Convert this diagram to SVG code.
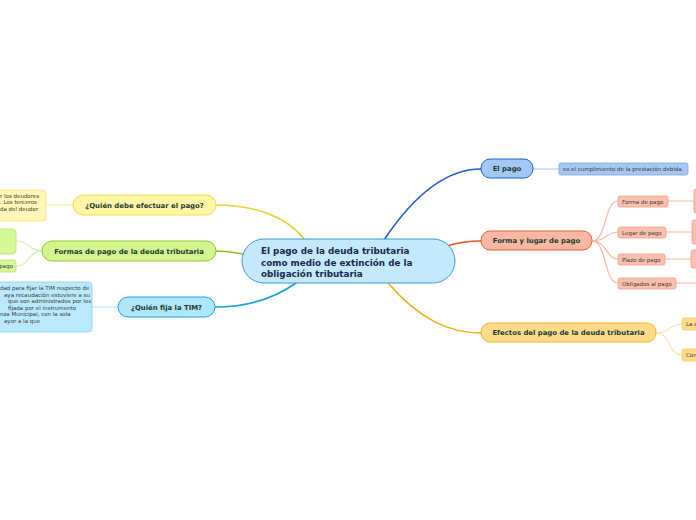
<svg xmlns="http://www.w3.org/2000/svg" width="696" height="520" viewBox="0 0 696 520">
<style>
.c{fill:none;stroke-width:1.6;stroke-linecap:round}
.s{fill:none;stroke-width:1.1}
.m{font-family:"DejaVu Sans",Verdana,sans-serif;font-weight:bold;font-size:6.9px;fill:#1d3b2e}
.t{font-family:"DejaVu Sans",Verdana,sans-serif;font-size:5.5px;fill:#3a3a3a}
.cen{font-family:"DejaVu Sans",Verdana,sans-serif;font-weight:bold;font-size:8.8px;fill:#1a2850}
</style>
<rect width="696" height="520" fill="#ffffff"/>
<g id="connectors">
<path class="c" stroke="#1d5fd0" d="M384,240 C412,198 445,169 481,169"/>
<path class="c" stroke="#ee5025" d="M447,246 C460,242 470,241 481,241"/>
<path class="c" stroke="#f5ae10" d="M388,283 C420,320 450,333 481,333"/>
<path class="c" stroke="#e8d228" d="M305,240 C285,214 250,205 216,205"/>
<path class="c" stroke="#8bbd1e" d="M243,254 C232,252 225,251 216,251"/>
<path class="c" stroke="#18a0e2" d="M296,283 C272,300 245,307 215,307"/>
<path class="s" stroke="#a8c6f2" stroke-width="1.6" d="M533,169 L559,169"/>
<path class="s" stroke="#fbb3a0" d="M592,241 C607,241 604,201 618,201 M592,241 C607,241 606,232 618,232 M592,241 C607,241 606,259 618,259 M592,241 C607,241 604,283 618,283"/>
<path class="s" stroke="#fbb3a0" stroke-width="1.5" d="M668,201 L694,201 M666,232 L692,232 M665,259 L691,259 M676,283 L696,283"/>
<path class="s" stroke="#fde09a" d="M656,333 C671,333 668,324 682,324 M656,333 C671,333 668,355 682,355"/>
<path class="s" stroke="#fbeb9a" stroke-width="1.5" d="M73,205 L46,205"/>
<path class="s" stroke="#d0ee9a" d="M42,251 C28,251 30,241 16,241 M42,251 C28,251 30,266 16,266"/>
<path class="s" stroke="#b9e6fa" stroke-width="1.5" d="M118,307 L92,307"/>
</g>
<g id="central">
<rect x="242" y="239" width="213" height="44" rx="22" fill="#c3e9fa" stroke="#3a9ad9" stroke-width="1"/>
<text class="cen" x="261" y="254">El pago de la deuda tributaria</text>
<text class="cen" x="261" y="265.5">como medio de extinción de la</text>
<text class="cen" x="261" y="277">obligación tributaria</text>
</g>
<g id="el-pago">
<rect x="481" y="159" width="52" height="19" rx="9" fill="#a3c7f7" stroke="#1b63d6" stroke-width="1"/>
<text class="m" x="507" y="171.3" text-anchor="middle">El pago</text>
</g>
<g id="el-pago-desc">
<rect x="559" y="163" width="129" height="12" rx="2" fill="#a8c6f2" stroke="#7aa6e8" stroke-width="0.8"/>
<text class="t" x="563" y="170.9">es el cumplimiento de la prestación debida.</text>
</g>
<g id="forma-lugar">
<rect x="481" y="231" width="111" height="19" rx="9" fill="#f9b8a5" stroke="#f05a30" stroke-width="1"/>
<text class="m" x="536.5" y="243.3" text-anchor="middle">Forma y lugar de pago</text>
</g>
<g id="forma-de-pago">
<rect x="618" y="196" width="50" height="11" rx="2" fill="#fbbfae" stroke="#f7a08a" stroke-width="0.8"/>
<text class="t" x="622" y="203.5">Forma de pago</text>
</g>
<g id="forma-de-pago-detail">
<rect x="694" y="189" width="10" height="24" rx="2" fill="#fbbfae" stroke="#f7a08a" stroke-width="0.8"/>
</g>
<g id="lugar-de-pago">
<rect x="618" y="227" width="48" height="11" rx="2" fill="#fbbfae" stroke="#f7a08a" stroke-width="0.8"/>
<text class="t" x="622" y="234.5">Lugar de pago</text>
</g>
<g id="lugar-de-pago-detail">
<rect x="692" y="220" width="10" height="24" rx="2" fill="#fbbfae" stroke="#f7a08a" stroke-width="0.8"/>
</g>
<g id="plazo-de-pago">
<rect x="618" y="254" width="47" height="11" rx="2" fill="#fbbfae" stroke="#f7a08a" stroke-width="0.8"/>
<text class="t" x="622" y="261.5">Plazo de pago</text>
</g>
<g id="plazo-de-pago-detail">
<rect x="691" y="250" width="10" height="18" rx="2" fill="#fbbfae" stroke="#f7a08a" stroke-width="0.8"/>
</g>
<g id="obligados">
<rect x="618" y="278" width="58" height="11" rx="2" fill="#fbbfae" stroke="#f7a08a" stroke-width="0.8"/>
<text class="t" x="622" y="285.5">Obligados al pago</text>
</g>
<g id="efectos">
<rect x="481" y="323" width="175" height="19" rx="9" fill="#fedb8b" stroke="#f7b225" stroke-width="1"/>
<text class="m" x="568.5" y="335.3" text-anchor="middle">Efectos del pago de la deuda tributaria</text>
</g>
<g id="efectos-la">
<rect x="682" y="318" width="22" height="12" rx="2" fill="#fedb8b" stroke="#fcca60" stroke-width="0.8"/>
<text class="t" x="686" y="325.9">La e</text>
</g>
<g id="efectos-con">
<rect x="682" y="349" width="22" height="12" rx="2" fill="#fedb8b" stroke="#fcca60" stroke-width="0.8"/>
<text class="t" x="686" y="356.9">Con</text>
</g>
<g id="quien-debe">
<rect x="73" y="195" width="143" height="20" rx="10" fill="#fff5a5" stroke="#f2dc45" stroke-width="1"/>
<text class="m" x="144.5" y="207.6" text-anchor="middle">¿Quién debe efectuar el pago?</text>
</g>
<g id="quien-debe-detail">
<rect x="-6" y="190" width="52" height="31" rx="4" fill="#fff7b5" stroke="#f7e57a" stroke-width="0.8"/>
<text class="t" x="0" y="197.5">r los deudores</text>
<text class="t" x="0" y="204">. Los terceros</text>
<text class="t" x="0" y="210.5">da del deudor</text>
</g>
<g id="formas">
<rect x="42" y="241" width="174" height="20" rx="10" fill="#d3f590" stroke="#95c52a" stroke-width="1"/>
<text class="m" x="129" y="253.6" text-anchor="middle">Formas de pago de la deuda tributaria</text>
</g>
<g id="formas-a">
<rect x="-6" y="229" width="22" height="25" rx="4" fill="#d6f796" stroke="#bde36a" stroke-width="0.8"/>
</g>
<g id="formas-b">
<rect x="-6" y="260" width="22" height="12" rx="2" fill="#d6f796" stroke="#bde36a" stroke-width="0.8"/>
<text class="t" x="13" y="267.9" text-anchor="end">pago</text>
</g>
<g id="quien-fija">
<rect x="118" y="297" width="97" height="20" rx="10" fill="#b0e6fb" stroke="#20a2e2" stroke-width="1"/>
<text class="m" x="166.5" y="309.6" text-anchor="middle">¿Quién fija la TIM?</text>
</g>
<g id="quien-fija-detail">
<rect x="-6" y="282" width="98" height="50" rx="4" fill="#b9e9fc" stroke="#86d2f5" stroke-width="0.8"/>
<text class="t" x="0" y="290">dad para fijar la TIM respecto de</text>
<text class="t" x="4" y="296.5">aya recaudación estuviere a su</text>
<text class="t" x="8" y="303">que son administrados por los</text>
<text class="t" x="8" y="309.5">fijada por el instrumento</text>
<text class="t" x="0" y="316">nza Municipal, con la sola</text>
<text class="t" x="4" y="322.5">ayor a la que</text>
</g>
</svg>
